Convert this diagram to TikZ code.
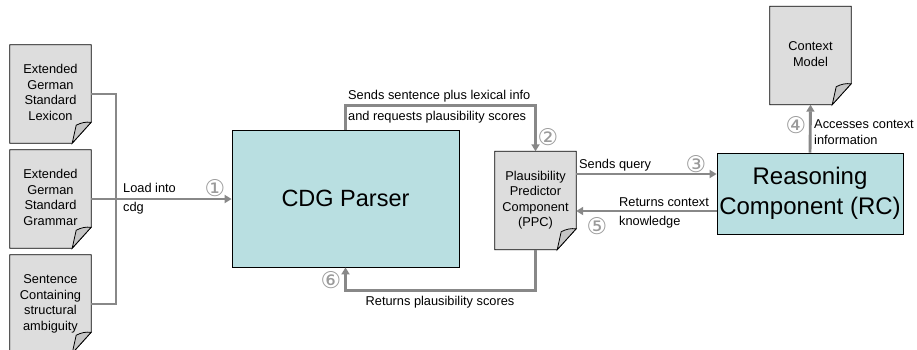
\documentclass[tikz,border=0pt]{standalone}
\usepackage{fontspec}
\setmainfont{Liberation Sans}
\newfontfamily\numfont{DejaVu Sans}
\usetikzlibrary{arrows.meta,backgrounds}

\definecolor{boxcyan}{HTML}{B9DFE1}
\definecolor{pagegray}{HTML}{DDDDDD}
\definecolor{linkgray}{HTML}{888888}
\definecolor{numgray}{HTML}{9A9A9A}

\newcommand{\pagetext}[1]{\raisebox{6.5pt}{\begin{tabular}{@{}c@{}}#1\end{tabular}}}
\newcommand{\docpage}[1]{%
    \filldraw[pagefill] (#1.north west) -- (#1.north east) -- ([yshift=21pt]#1.south east)
        -- ([xshift=-19pt]#1.south east) -- (#1.south west) -- cycle;
    \filldraw[pagefold] ([yshift=21pt]#1.south east) to[bend right=15] ([shift={(-15pt,18pt)}]#1.south east)
        -- ([xshift=-19pt]#1.south east) -- cycle;}

\begin{document}
\begin{tikzpicture}[x=1pt,y=1pt,>={Triangle[length=7pt,width=8pt]}]
    \tikzstyle{page}=[minimum width=81pt,minimum height=98pt,inner sep=0pt,font=\fontsize{12.8}{15.5}\selectfont]
    \tikzstyle{pagefill}=[fill=pagegray,draw=black,line width=0.8pt]
    \tikzstyle{pagefold}=[fill=gray!45,draw=black,line width=0.8pt]
    \tikzstyle{box}=[draw=black,fill=boxcyan,line width=0.8pt,inner sep=0pt,align=center]
    \tikzstyle{link}=[draw=linkgray,line width=2.9pt]
    \tikzstyle{annot}=[font=\fontsize{12.8}{19}\selectfont,align=left,inner sep=0pt]
    \tikzstyle{num}=[text=numgray,font=\numfont\fontsize{23}{23}\selectfont,inner sep=0pt]

    \useasboundingbox (0,0) rectangle (917,-349);

    % Draw the source documents
    \foreach \y/\txt [count=\i] in {-94/{Extended\\German\\Standard\\Lexicon},
            -199/{Extended\\German\\Standard\\Grammar},
            -304/{Sentence\\Containing\\structural\\ambiguity}}
        \node[page] (D-\i) at (50.5,\y) {\pagetext{\txt}};

    % Draw the components
    \node[box,minimum width=227pt,minimum height=137pt,font=\fontsize{23.5}{28}\selectfont]
        (CDG) at (345.5,-198.5) {CDG Parser};
    \node[page] (PPC) at (535.5,-200.5) {\pagetext{Plausibility\\Predictor\\Component\\(PPC)}};
    \node[box,minimum width=186pt,minimum height=81pt,font=\fontsize{24}{30}\selectfont]
        (RC) at (810,-193.5) {Reasoning\\Component (RC)};
    \node[page] (CM) at (810.5,-55.5) {\pagetext{Context\\Model}};

    % Page outlines behind the texts
    \begin{scope}[on background layer]
        \foreach \n in {D-1,D-2,D-3,PPC,CM}
            \docpage{\n};
    \end{scope}

    % Connect the documents with the parser
    \coordinate (bus) at (116,-199);
    \draw[link] (D-1) -| (bus) |- (D-3);
    \draw[link,->] (D-2.east) -- (D-2.east -| CDG.west);

    % Connect the parser, the predictor and the reasoner
    \draw[link,->] (CDG.north) -- ++(0,24) -| (PPC.north);
    \draw[link,->] (PPC.south) -- ++(0,-41) -| (CDG.south);
    \draw[link,->] ([yshift=26.5pt]PPC.east) -- ([yshift=19.5pt]RC.west);
    \draw[link,<-] ([yshift=-10.5pt]PPC.east) -- ([yshift=-17.5pt]RC.west);
    \draw[link,->] (RC.north) -- (CM.south);

    % Labels and step numbers
    \node[annot,anchor=west] (load) at (123,-199) {Load into\\cdg};
    \node[num] (n1) at (215,-188) {①};
    \node[annot,anchor=west] (sends) at (348,-106.5) {Sends sentence plus lexical info\\[2pt]and requests plausibility scores};
    \node[num] (n2) at (548,-137) {②};
    \node[annot,anchor=west] (query) at (579,-165) {Sends query};
    \node[num] (n3) at (696,-164) {③};
    \node[num] (n4) at (796,-125) {④};
    \node[annot,anchor=west] (access) at (814,-132) {Accesses context\\[-3pt]information};
    \node[annot,anchor=west] (back) at (619,-213) {Returns context\\knowledge};
    \node[num] (n5) at (597,-226) {⑤};
    \node[num] (n6) at (331,-280) {⑥};
    \node[annot] (scores) at (440,-302) {Returns plausibility scores};
\end{tikzpicture}
\end{document}
